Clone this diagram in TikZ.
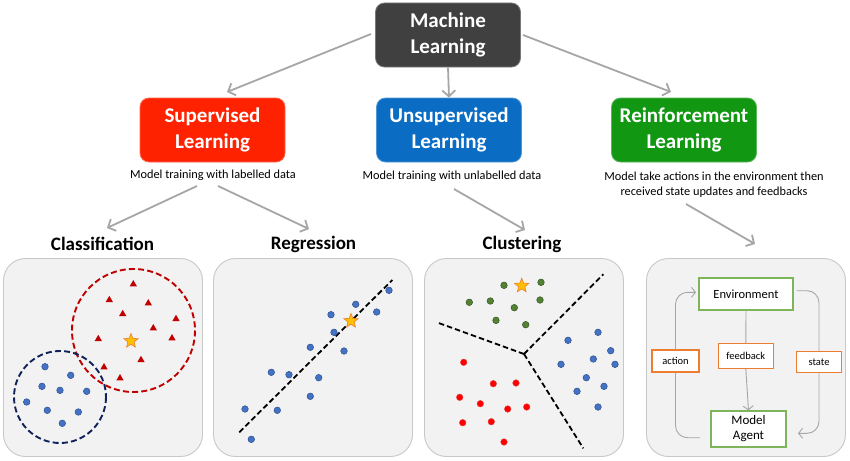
\documentclass[tikz,border=0pt]{standalone}
\usepackage{fontspec}
\setmainfont{Carlito}
\usetikzlibrary{arrows.meta,shapes.geometric}
\definecolor{mlgray}{HTML}{404040}
\definecolor{supred}{HTML}{FF2200}
\definecolor{unsblue}{HTML}{0A6CC2}
\definecolor{reingreen}{HTML}{129712}
\definecolor{arrgray}{HTML}{A6A6A6}
\definecolor{panelfill}{HTML}{F2F2F2}
\definecolor{panelline}{HTML}{C8C8C8}
\definecolor{dotblue}{HTML}{4472C4}
\definecolor{dotblueline}{HTML}{2F528F}
\definecolor{dotred}{HTML}{FF0000}
\definecolor{dotredline}{HTML}{E04040}
\definecolor{dotgreen}{HTML}{548235}
\definecolor{dotgreenline}{HTML}{385723}
\definecolor{trired}{HTML}{C00000}
\definecolor{circred}{HTML}{C00000}
\definecolor{circnavy}{HTML}{10225A}
\definecolor{starfill}{HTML}{FFC000}
\definecolor{starline}{HTML}{ED7D31}
\definecolor{envgreen}{HTML}{7FB55A}
\definecolor{lblorange}{HTML}{ED7D31}
\begin{document}
\begin{tikzpicture}[x=1pt,y=-1pt,
  topbox/.style={fill=#1, draw=#1!70!white, line width=0.8, rounded corners=9,
    text=white, align=center, font=\fontsize{21}{25.5}\selectfont\bfseries,
    minimum width=145, minimum height=64, inner sep=0},
  caption/.style={align=center, font=\fontsize{12.3}{15}\selectfont, inner sep=0},
  title/.style={font=\fontsize{19}{22}\selectfont\bfseries, inner sep=0},
  mainarrow/.style={draw=arrgray, line width=1.8, -{Straight Barb[length=6,width=13]}},
  panel/.style={fill=panelfill, draw=panelline, line width=0.9, rounded corners=22,
    minimum width=199, minimum height=198, inner sep=0},
  envbox/.style={draw=envgreen, line width=1.1, fill=white, align=center, inner sep=0},
  lblbox/.style={draw=lblorange, line width=1.1, fill=white, inner sep=0,
    font=\fontsize{10.5}{12}\selectfont},
  loopline/.style={draw=arrgray, line width=0.9},
  looparrow/.style={loopline, -{Straight Barb[length=4,width=10]}},
  bdot/.style={fill=dotblue, draw=dotblueline, line width=0.5},
  rdot/.style={fill=dotred, draw=dotredline, line width=0.4},
  gdot/.style={fill=dotgreen, draw=dotgreenline, line width=0.5},
  tri/.style={regular polygon, regular polygon sides=3, fill=trired, inner sep=0, minimum size=8.5},
  starnode/.style={star, star points=5, star point ratio=2.3, fill=starfill, draw=starline,
    line width=0.6, inner sep=0, minimum size=15},
  sepline/.style={draw=black, line width=1.8, dash pattern=on 5.5 off 3}
]
\useasboundingbox (0,0) rectangle (850,460);

% top level
\node[topbox=mlgray] (ml) at (448,35) {Machine\\Learning};
\node[topbox=supred] (sup) at (212.5,130) {Supervised\\Learning};
\node[topbox=unsblue] (uns) at (449,130) {Unsupervised\\Learning};
\node[topbox=reingreen] (rein) at (684,130) {Reinforcement\\Learning};

\node[caption] (capS) at (213,175) {Model training with labelled data};
\node[caption] (capU) at (452,176) {Model training with unlabelled data};
\node[caption] (capR) at (714,184.5) {Model take actions in the environment then\\received state updates and feedbacks};

\coordinate (mlL) at (371,34);
\coordinate (mlR) at (523,35);
\coordinate (supTip) at (227,92);
\coordinate (reinTip) at (671,92);
\draw[mainarrow] (mlL) -- (supTip);
\draw[mainarrow] (ml.south) -- (uns.north);
\draw[mainarrow] (mlR) -- (reinTip);

% titles
\node[title] (tCls) at (102.5,244) {Classification};
\node[title] (tReg) at (313.5,244) {Regression};
\node[title] (tClu) at (522,244) {Clustering};

\coordinate (sL) at (197,186);
\coordinate (sR) at (218,186);
\coordinate (uS) at (454,189);
\coordinate (rS) at (686,204);
\coordinate (clsTip) at (107,228);
\coordinate (regTip) at (309,229);
\coordinate (cluTip) at (525,230);
\coordinate (rlTip) at (755,244);
\draw[mainarrow] (sL) -- (clsTip);
\draw[mainarrow] (sR) -- (regTip);
\draw[mainarrow] (uS) -- (cluTip);
\draw[mainarrow] (rS) -- (rlTip);

% panels
\node[panel] (p1) at (103,357.5) {};
\node[panel] (p2) at (313,357.5) {};
\node[panel] (p3) at (524,357.5) {};
\node[panel] (p4) at (746,357.5) {};

% ---- Classification
\draw[circred, line width=1.9, dash pattern=on 6 off 3.2] (133.5,330.5) circle (61.5);
\draw[circnavy, line width=1.9, dash pattern=on 6 off 3.2] (60,397) circle (46);
\foreach \x/\y in {133.3/284.3,109.3/300,148.3/303.3,122.7/314,176/319,153.3/328.3,98.3/339,172/338.3,141/360,104/367.3,120/378.3}
  \node[tri] at (\x,\y) {};
\node[starnode] (s1) at (131,341) {};
\foreach \x/\y in {45/366.7,70.7/375.3,42/386.3,60/390.3,86.7/391.3,26.7/402,47.3/410.3,78.3/412,62.3/423.3}
  \draw[bdot] (\x,\y) circle (3.3);

% ---- Regression
\draw[sepline] (239.3,432.3) -- (392.3,280);
\foreach \x/\y in {389/290.3,355.7/304.3,376.7/312,331/314.7,334/332.3,310.3/347.3,344/351,271.3/372.3,289/374.7,318.7/377.7,310.3/396.3,245/409,277.3/410.3,251.3/439.3}
  \draw[bdot] (\x,\y) circle (3.3);
\node[starnode] (s2) at (351,321) {};

% ---- Clustering
\coordinate (cc) at (524,354);
\draw[sepline] (cc) -- (436.7,322.3);
\draw[sepline] (cc) -- (603.3,274.3);
\draw[sepline] (cc) -- (583.3,448.3);
\foreach \x/\y in {504/285.3,541/282.3,469.3/302.3,490.3/301,514.3/307.7,540/300,496/320.3,525.7/324.7}
  \draw[gdot] (\x,\y) circle (3.3);
\node[starnode] (s3) at (521.7,285.7) {};
\foreach \x/\y in {598/332.3,568/340.3,610.7/350.7,593.3/359,561/364.3,615/364.3,586.3/377.7,604/386.3,577/391.3,598/407}
  \draw[bdot] (\x,\y) circle (3.3);
\foreach \x/\y in {463.7/362.3,493.3/383.7,516/383,459.7/397.3,480.3/403.7,507.7/409,526.7/407,462.7/422.7,491.3/421.7,504/442}
  \draw[rdot] (\x,\y) circle (3.3);

% ---- Reinforcement loop
\node[envbox, minimum width=94, minimum height=32, font=\fontsize{12.5}{15}\selectfont] (env) at (746,294) {Environment};
\node[envbox, minimum width=75, minimum height=36, font=\fontsize{13}{15}\selectfont] (agent) at (748.5,429) {Model\\Agent};
\node[lblbox, minimum width=55, minimum height=25] (fb) at (745.8,355.8) {feedback};
\node[lblbox, minimum width=47, minimum height=22] (act) at (675.5,361) {action};
\node[lblbox, minimum width=45, minimum height=21] (st) at (819,362) {state};

\draw[loopline] (env.south) -- (fb.north);
\draw[looparrow] (fb.south) -- (agent.north);

\coordinate (la) at (700,437.7);
\coordinate (lb) at (696,292.3);
\coordinate (ra) at (796.5,290.7);
\coordinate (rb) at (798,433.3);
\draw[loopline, rounded corners=12] (la) -| (act.south);
\draw[looparrow, rounded corners=12] (act.north) |- (lb);
\draw[loopline, rounded corners=12] (ra) -| (st.north);
\draw[looparrow, rounded corners=12] (st.south) |- (rb);
\end{tikzpicture}
\end{document}
